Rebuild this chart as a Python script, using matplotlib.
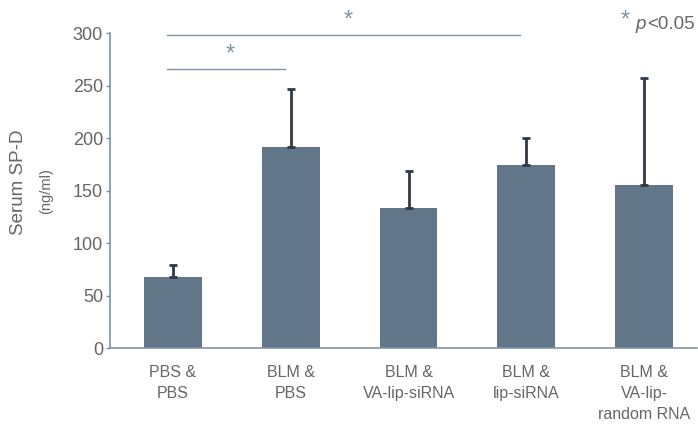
import matplotlib.pyplot as plt
import numpy as np

plt.rcParams['font.family'] = ['Liberation Sans', 'DejaVu Sans']

groups = ["PBS &\nPBS", "BLM &\nPBS", "BLM &\nVA-lip-siRNA", "BLM &\nlip-siRNA",
          "BLM &\nVA-lip-\nrandom RNA"]
sp_d = [68, 191, 133, 174, 155]
sp_d_err = [11, 56, 36, 26, 102]
yticks = [0, 50, 100, 150, 200, 250, 300]

# significance brackets: (from group, to group, height)
brackets = [(0, 1, 266), (0, 3, 298)]

bar_color = "#62768a"
err_color = "#2f3a46"
axis_color = "#7f93a4"
text_color = "#666666"

fig = plt.figure(figsize=(6.98, 4.26), dpi=100)
ax = fig.add_axes([0.1576, 0.183, 0.8410, 0.7395])

x = np.arange(len(groups))
ax.bar(x, sp_d, width=0.49, color=bar_color, zorder=2)
ax.errorbar(x, sp_d, yerr=[np.zeros(len(sp_d)), sp_d_err], fmt="none",
            ecolor=err_color, elinewidth=2, capsize=3, capthick=2, zorder=3)

ax.set_xlim(-0.535, 4.45)
ax.set_ylim(0, 300)
ax.set_yticks(yticks)
ax.set_xticks(x)
ax.set_xticklabels(groups, fontsize=11.5, color=text_color, linespacing=1.5)
ax.tick_params(axis="y", labelsize=13, labelcolor=text_color, color=axis_color,
               length=3, width=1, pad=2)
ax.tick_params(axis="x", length=0, pad=12)

for s in ["top", "right"]:
    ax.spines[s].set_visible(False)
for s in ["left", "bottom"]:
    ax.spines[s].set_color(axis_color)
    ax.spines[s].set_linewidth(1.2)

# two-line y label, second line smaller
fig.text(19 / 698, 1 - 182 / 426, "Serum SP-D", rotation=90, ha="center",
         va="center", fontsize=13.5, color=text_color)
fig.text(46 / 698, 1 - 191 / 426, "(ng/ml)", rotation=90, ha="center",
         va="center", fontsize=10.5, color=text_color)

for a, b, h in brackets:
    ax.plot([a - 0.05, b - 0.05], [h, h], color=axis_color, lw=1, clip_on=False)
    ax.text((a + b) / 2 - 0.01, h + 3, "*", ha="center", va="bottom",
            fontsize=17, color=axis_color, clip_on=False)

ax.text(3.84, 301, "*", ha="center", va="bottom", fontsize=17, color=axis_color,
        clip_on=False)
ax.text(3.93, 300, "p", ha="left", va="bottom", fontsize=13.5, style="italic",
        color=text_color, clip_on=False)
ax.text(4.03, 300, "<0.05", ha="left", va="bottom", fontsize=13.5,
        color=text_color, clip_on=False)

fig.savefig("out.png", dpi=100)
